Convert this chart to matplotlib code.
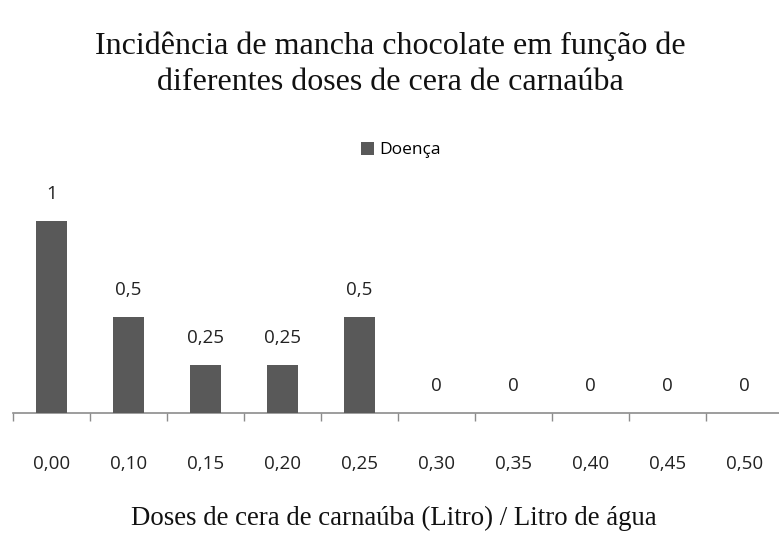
import matplotlib
matplotlib.use("Agg")
import matplotlib.pyplot as plt
import numpy as np

categories = ["0,00", "0,10", "0,15", "0,20", "0,25", "0,30", "0,35", "0,40", "0,45", "0,50"]
values = [1, 0.5, 0.25, 0.25, 0.5, 0, 0, 0, 0, 0]
value_labels = ["1", "0,5", "0,25", "0,25", "0,5", "0", "0", "0", "0", "0"]
series_name = "Doença"

W, H = 779, 535
fig = plt.figure(figsize=(W / 100, H / 100), dpi=100)

ax_left, ax_right = 13, 783
ax_bottom, ax_top = 413, 160
ax = fig.add_axes([ax_left / W, (H - ax_bottom) / H, (ax_right - ax_left) / W, (ax_bottom - ax_top) / H])
ymax = (ax_bottom - ax_top) / 192.0

x = np.arange(len(categories))
bar_color = "#595959"
bars = ax.bar(x, values, width=0.39, color=bar_color, label=series_name, zorder=3)
ax.set_xlim(-0.5, len(categories) - 0.5)
ax.set_ylim(0, ymax)

lab_font = "Open Sans"
for xi, v, lab in zip(x, values, value_labels):
    ax.annotate(lab, (xi, v), xytext=(0, 15.5), textcoords="offset points",
                ha="center", va="baseline", fontsize=13.5, family=lab_font, color="#222222")

for s in ["top", "right", "left"]:
    ax.spines[s].set_visible(False)
ax.spines["bottom"].set_color("#8c8c8c")
ax.spines["bottom"].set_linewidth(1.2)
ax.set_yticks([])
ax.set_xticks(np.arange(-0.5, len(categories), 1.0))
ax.set_xticklabels([])
ax.tick_params(axis="x", length=6, color="#8c8c8c", width=1)
ax.set_xticks(x, minor=True)
ax.set_xticklabels(categories, minor=True, fontsize=13.5, family=lab_font, color="#222222")
ax.tick_params(axis="x", which="minor", length=0, pad=30)

fig.legend(handles=[bars], labels=[series_name], loc="center", bbox_to_anchor=(401 / W, 1 - 150 / H),
           frameon=False, handlelength=0.75, handleheight=0.75, handletextpad=0.3,
           prop={"family": lab_font, "size": 12.5})

fig.text(390 / W, 1 - 46 / H, "Incidência de mancha chocolate em função de", ha="center", va="center",
         fontsize=23, family="Liberation Serif", color="#111111")
fig.text(390 / W, 1 - 83 / H, "diferentes doses de cera de carnaúba", ha="center", va="center",
         fontsize=23, family="Liberation Serif", color="#111111")
fig.text(394 / W, 1 - 518 / H, "Doses de cera de carnaúba (Litro) / Litro de água", ha="center", va="center",
         fontsize=19.3, family="Liberation Serif", color="#111111")

fig.savefig("out.png", dpi=100, facecolor="white")
